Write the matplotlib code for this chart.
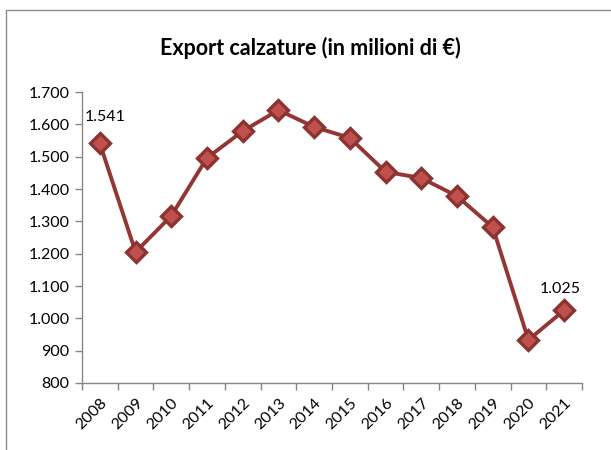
import matplotlib
matplotlib.use("Agg")
import matplotlib.pyplot as plt
from matplotlib.patches import Rectangle

years = ["2008", "2009", "2010", "2011", "2012", "2013", "2014",
         "2015", "2016", "2017", "2018", "2019", "2020", "2021"]
values = [1541, 1205, 1317, 1496, 1579, 1644, 1592,
          1558, 1453, 1434, 1378, 1282, 933, 1025]
yticks = [800, 900, 1000, 1100, 1200, 1300, 1400, 1500, 1600, 1700]

def fmt(v):
    return f"{v:,}".replace(",", ".")

plt.rcParams['font.family'] = ['Lato', 'DejaVu Sans']

fig = plt.figure(figsize=(6.11, 4.5), dpi=100)
fig.patch.set_facecolor("white")

# outer chart border (partially cropped)
fig.patches.append(Rectangle((6/611, -0.1), 1.2, 1 - 10/450 + 0.1,
                             transform=fig.transFigure, fill=False,
                             edgecolor="#8c8c8c", linewidth=1.0))

ax = fig.add_axes([82/611, 1 - 383/450, 500/611, (383 - 92)/450])
x = list(range(len(years)))
ax.plot(x, values, color="#933634", linewidth=2.8, marker="D",
        markersize=10.5, markerfacecolor="#C0504D",
        markeredgecolor="#8B3331", markeredgewidth=2.4, zorder=3,
        clip_on=False)

ax.set_xlim(-0.5, len(years) - 0.5)
ax.set_ylim(800, 1700)
ax.set_yticks(yticks)
ax.set_yticklabels([fmt(v) for v in yticks], fontsize=11.5)
ax.set_xticks(x)
ax.set_xticklabels(years, rotation=45, ha="right", va="top",
                   rotation_mode="anchor", fontsize=11.5)
ax.set_xticks([i - 0.5 for i in range(len(years) + 1)], minor=True)
ax.tick_params(axis="x", which="major", length=0, pad=9)
ax.tick_params(axis="x", which="minor", length=5, color="#868686", width=1)
ax.tick_params(axis="y", length=5, color="#868686", width=1, pad=4)

for s in ["top", "right"]:
    ax.spines[s].set_visible(False)
for s in ["left", "bottom"]:
    ax.spines[s].set_color("#868686")
    ax.spines[s].set_linewidth(1)

ax.annotate(fmt(values[0]), (x[0], values[0]), xytext=(4, 19),
            textcoords="offset points", ha="center", va="center", fontsize=11.5)
ax.annotate(fmt(values[-1]), (x[-1], values[-1]), xytext=(-3, 15),
            textcoords="offset points", ha="center", va="center", fontsize=11.5)

fig.text(310/611, 1 - 48/450, "Export calzature (in milioni di €)",
         ha="center", va="center", fontsize=15.5, fontweight="bold")

fig.savefig("out.png", dpi=100, facecolor="white")
